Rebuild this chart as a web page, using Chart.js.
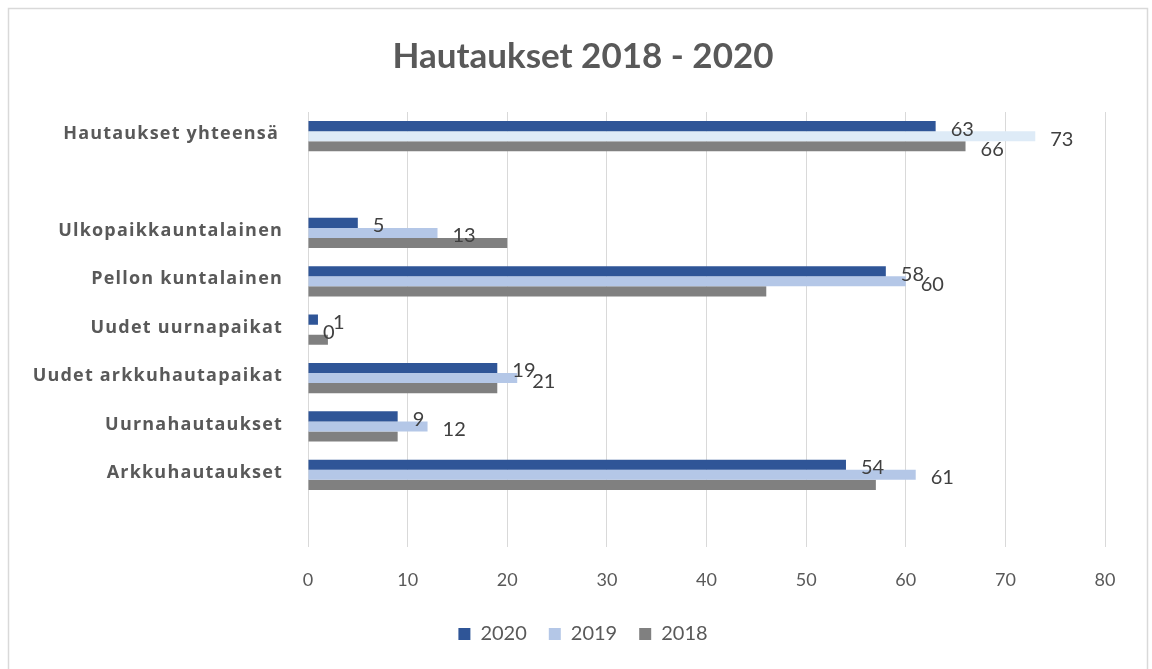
<!DOCTYPE html>
<html>
<head>
<meta charset="utf-8">
<script src="https://cdn.jsdelivr.net/npm/chart.js@4/dist/chart.umd.min.js"></script>
<style>
html,body{margin:0;padding:0;background:#fff;}
#wrap{position:absolute;left:0;top:0;width:1152px;height:669px;}
</style>
</head>
<body>
<div id="wrap"><canvas id="c" width="1152" height="669"></canvas></div>
<script>
const categories = ["Hautaukset yhteensä", "", "Ulkopaikkauntalainen", "Pellon kuntalainen", "Uudet uurnapaikat", "Uudet arkkuhautapaikat", "Uurnahautaukset", "Arkkuhautaukset", ""];
const seriesNames = ["2020", "2019", "2018"];
const values2020 = [63, null, 5, 58, 1, 19, 9, 54, null];
const values2019 = [73, null, 13, 60, 0, 21, 12, 61, null];
const values2018 = [66, null, 20, 46, 2, 19, 9, 57, null];
const xTicks = [0, 10, 20, 30, 40, 50, 60, 70, 80];

const FONT = "Lato, 'Open Sans', sans-serif";
const GREY = "#595959";

const borderPlugin = {
  id: 'frame',
  beforeDraw(chart) {
    const ctx = chart.ctx;
    ctx.save();
    ctx.fillStyle = '#fff';
    ctx.fillRect(0, 0, chart.width, chart.height);
    ctx.strokeStyle = '#d9d9d9';
    ctx.lineWidth = 1.5;
    ctx.strokeRect(8.5, 8.5, 1139, 680);
    ctx.restore();
  }
};

const catLabelPlugin = {
  id: 'catLabels',
  afterDraw(chart) {
    const ctx = chart.ctx;
    const ys = chart.scales.y;
    ctx.save();
    ctx.font = "bold 18px 'Open Sans', sans-serif";
    ctx.fillStyle = GREY;
    ctx.textAlign = 'right';
    ctx.textBaseline = 'middle';
    if ('letterSpacing' in ctx) ctx.letterSpacing = '1.2px';
    chart.data.labels.forEach((lab, i) => {
      if (!lab) return;
      const y = ys.getPixelForTick(i);
      const extra = i === 0 ? 4 : 0;
      ctx.fillText(lab, chart.chartArea.left - 25 - extra, y - 2);
    });
    ctx.restore();
  }
};

const labelPlugin = {
  id: 'valueLabels',
  afterDatasetsDraw(chart) {
    const ctx = chart.ctx;
    ctx.save();
    ctx.font = "20px " + FONT;
    ctx.fillStyle = "#404040";
    ctx.textAlign = 'left';
    ctx.textBaseline = 'middle';
    chart.data.datasets.forEach((ds, di) => {
      const meta = chart.getDatasetMeta(di);
      meta.data.forEach((bar, i) => {
        const v = ds.data[i];
        if (v === null || v === undefined) return;
        if (di === 2 && i !== 0) return;
        ctx.fillText(String(v), bar.x + 15, bar.y + 3);
      });
    });
    ctx.restore();
  }
};

const colors2019 = values2019.map((v, i) => i === 0 ? '#deebf7' : '#b4c7e7');

new Chart(document.getElementById('c'), {
  type: 'bar',
  data: {
    labels: categories,
    datasets: [
      { label: seriesNames[0], data: values2020, backgroundColor: '#2f5597', borderWidth: 0 },
      { label: seriesNames[1], data: values2019, backgroundColor: colors2019, borderWidth: 0 },
      { label: seriesNames[2], data: values2018, backgroundColor: '#808080', borderWidth: 0 }
    ]
  },
  options: {
    indexAxis: 'y',
    responsive: false,
    animation: false,
    devicePixelRatio: 1,
    categoryPercentage: 0.625,
    barPercentage: 1.0,
    layout: { padding: { left: 61, right: 47, top: 0, bottom: 15 } },
    scales: {
      x: {
        min: 0, max: 80,
        afterBuildTicks(scale) { scale.ticks = xTicks.map(v => ({ value: v })); },
        afterFit(scale) { scale.height = scale.height - 11; },
        grid: { color: '#d9d9d9', lineWidth: 1, drawTicks: false },
        border: { display: false },
        ticks: { color: GREY, font: { family: FONT, size: 18 }, padding: 22 }
      },
      y: {
        grid: { display: false },
        border: { display: false },
        afterFit(scale) { scale.width = 247; },
        ticks: { display: false }
      }
    },
    plugins: {
      title: {
        display: true,
        text: 'Hautaukset 2018 - 2020',
        color: GREY,
        font: { family: FONT, size: 35, weight: 'bold' },
        padding: { top: 36, bottom: 34 }
      },
      legend: {
        position: 'bottom',
        labels: {
          color: GREY,
          font: { family: FONT, size: 20 },
          boxWidth: 12, boxHeight: 12,
          padding: 22,
          generateLabels(chart) {
            const fills = ['#2f5597', '#b4c7e7', '#808080'];
            return chart.data.datasets.map((ds, i) => ({
              text: ds.label, fillStyle: fills[i], strokeStyle: fills[i], lineWidth: 0,
              hidden: false, datasetIndex: i, fontColor: GREY
            }));
          }
        }
      },
      tooltip: { enabled: false }
    }
  },
  plugins: [borderPlugin, labelPlugin, catLabelPlugin]
});
</script>
</body>
</html>
